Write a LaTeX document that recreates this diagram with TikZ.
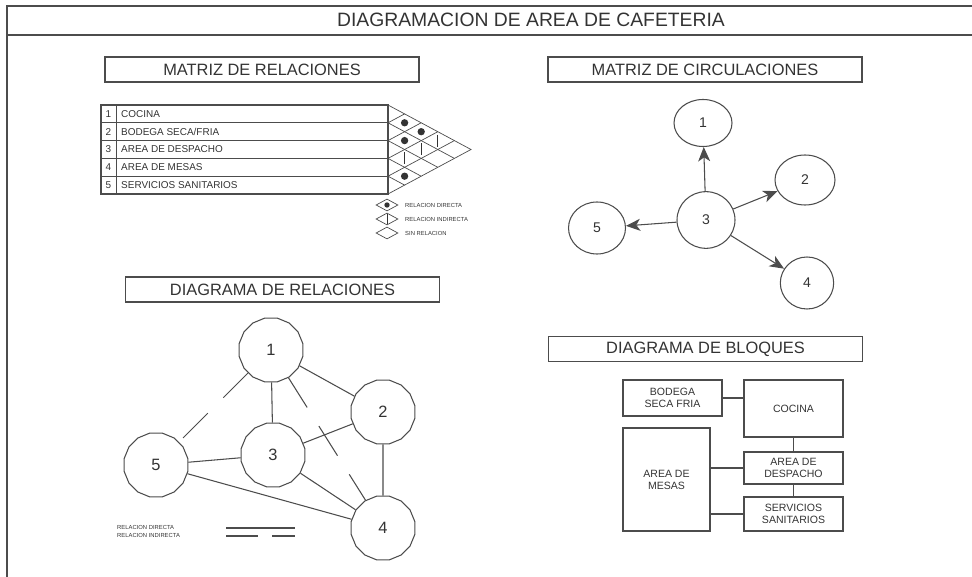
\documentclass[tikz,border=0pt]{standalone}
\usepackage{fontspec}
\setmainfont{Liberation Sans}
\usepackage{xcolor}
\usetikzlibrary{shapes.geometric,arrows.meta,positioning,calc}

\definecolor{trazo}{gray}{0.3}
\definecolor{letra}{gray}{0.2}

\tikzset{
  titulo/.style={rectangle, draw=trazo, line width=1.3pt, minimum width=94.2mm, minimum height=7.4mm, text=letra, font=\fontsize{14}{16}\selectfont},
  zona/.style={regular polygon, regular polygon sides=16, draw=trazo, line width=0.9pt, minimum size=19.5mm, inner sep=0pt, text=letra, font=\fontsize{14}{16}\selectfont},
  espacio/.style={ellipse, draw=trazo, line width=0.9pt, minimum width=17.4mm, minimum height=15.6mm, inner sep=0pt, text=letra, font=\fontsize{12}{14}\selectfont},
  bloque/.style={rectangle, draw=trazo, line width=1.4pt, align=center, inner sep=0pt, minimum width=29.7mm, text=letra, font=\fontsize{9}{10.2}\selectfont},
  directa/.style={draw=trazo, line width=0.9pt},
  indirecta/.style={directa, dash pattern=on 10.5mm off 6.6mm},
  flecha/.style={draw=trazo, line width=0.9pt, -{Stealth[length=4.3mm, width=3.6mm, inset=1.2mm]}},
  fila/.style={anchor=west, inner sep=0pt, text=letra, font=\fontsize{8.5}{10}\selectfont},
  nota/.style={anchor=west, inner sep=0pt, text=letra, font=\fontsize{5}{6}\selectfont},
  rombo/.style={diamond, draw=trazo, line width=0.6pt, aspect=1.8, minimum width=6.6mm, minimum height=3.6mm, inner sep=0pt},
}

\begin{document}
\begin{tikzpicture}[x=0.3mm, y=-0.3mm]
    \useasboundingbox (0,0) rectangle (972,577);

    % marco y titulo
    \draw [trazo, line width=1.3pt] (7,577) -- (7,6) -- (972,6);
    \draw [trazo, line width=1.3pt] (7,35) -- (972,35);
    \node (titulo) [text=letra, font=\fontsize{16.5}{18}\selectfont] at (531,20) {DIAGRAMACION DE AREA DE CAFETERIA};

    \node (tmatriz) [titulo] at (262,69.5) {MATRIZ DE RELACIONES};
    \node (tcirc) [titulo] at (705,69.5) {MATRIZ DE CIRCULACIONES};
    \node (tdiag) [titulo] at (282.5,289.5) {DIAGRAMA DE RELACIONES};
    \node (tbloq) [titulo] at (705.5,349) {DIAGRAMA DE BLOQUES};

    % matriz de relaciones
    \draw [trazo, line width=0.9pt] (101,105) rectangle (388,194);
    \draw [trazo, line width=0.8pt] (116,105) -- (116,194);
    \foreach \k in {1,...,4}
        \draw [trazo, line width=0.9pt] (101,{105+\k*17.8}) -- (388,{105+\k*17.8});
    \draw [trazo, line width=1.3pt] (388,105) -- (388,194);
    \draw [trazo, line width=0.6pt] (388,105) -- (471,149.5) -- (388,194);
    \foreach \k in {1,...,4} {
        \draw [trazo, line width=0.6pt] (388,{105+\k*17.8}) -- ++({(5-\k)*16.6},{(5-\k)*8.9});
        \draw [trazo, line width=0.6pt] (388,{105+\k*17.8}) -- ++({\k*16.6},{-\k*8.9});
    }
    \foreach \i/\j in {1/2,1/3,2/3,4/5}
        \fill [letra] ({388+(\j-\i)*16.6},{105+(\i+\j-1)*8.9}) circle (1.1mm);
    \foreach \i/\j in {1/4,2/4,3/4}
        \draw [letra, line width=0.7pt] ({388+(\j-\i)*16.6},{105+(\i+\j-1)*8.9-6}) -- ++(0,12);

    \node (n1) [text=letra, font=\fontsize{8.5}{10}\selectfont] at (108.5,113.9) {1};
    \node (n2) [text=letra, font=\fontsize{8.5}{10}\selectfont] at (108.5,131.7) {2};
    \node (n3) [text=letra, font=\fontsize{8.5}{10}\selectfont] at (108.5,149.5) {3};
    \node (n4) [text=letra, font=\fontsize{8.5}{10}\selectfont] at (108.5,167.3) {4};
    \node (n5) [text=letra, font=\fontsize{8.5}{10}\selectfont] at (108.5,185.1) {5};
    \node (m1) [fila] at (121,113.9) {COCINA};
    \node (m2) [fila] at (121,131.7) {BODEGA SECA/FRIA};
    \node (m3) [fila] at (121,149.5) {AREA DE DESPACHO};
    \node (m4) [fila] at (121,167.3) {AREA DE MESAS};
    \node (m5) [fila] at (121,185.1) {SERVICIOS SANITARIOS};

    % simbologia
    \node (ld1) [rombo] at (387,205) {};
    \node (ld2) [rombo] at (387,219) {};
    \node (ld3) [rombo] at (387,233) {};
    \fill [letra] (ld1) circle (0.8mm);
    \draw [letra, line width=0.6pt] ($(ld2)+(0,-5)$) -- ($(ld2)+(0,5)$);
    \node (tl1) [nota] at (405,205) {RELACION DIRECTA};
    \node (tl2) [nota] at (405,219) {RELACION INDIRECTA};
    \node (tl3) [nota] at (405,233) {SIN RELACION};

    % diagrama de relaciones
    \node (r1) [zona] at (271,350) {1};
    \node (r2) [zona] at (383,412) {2};
    \node (r3) [zona] at (273,455) {3};
    \node (r4) [zona] at (383,528) {4};
    \node (r5) [zona] at (156,465) {5};

    \draw [directa] (r1) -- (r2);
    \draw [directa] (r1) -- (r3);
    \draw [directa] (r2) -- (r3);
    \draw [directa] (r2) -- (r4);
    \draw [directa] (r3) -- (r5);
    \draw [directa] (r3) -- (r4);
    \draw [directa] (r5) -- (r4);
    \draw [indirecta] (r1) -- (r5);
    \draw [indirecta] (r1) -- (r4);

    \node (lr1) [nota] at (117,527) {RELACION DIRECTA};
    \node (lr2) [nota] at (117,535) {RELACION INDIRECTA};
    \draw [directa] (226,528) -- (295,528);
    \draw [directa] (226,536) -- (258,536);
    \draw [directa] (272,536) -- (295,536);

    % matriz de circulaciones
    \node (c1) [espacio, minimum height=14.1mm] at (703,123) {1};
    \node (c2) [espacio, minimum width=18mm, minimum height=15mm] at (805,180) {2};
    \node (c3) [espacio, minimum height=17mm] at (706,220) {3};
    \node (c4) [espacio, minimum width=16mm] at (807,283) {4};
    \node (c5) [espacio, minimum width=17.1mm] at (597,228) {5};

    \draw [flecha] (c3) -- (c1);
    \draw [flecha] (c3) -- (c2);
    \draw [flecha] (c3) -- (c4);
    \draw [flecha] (c3) -- (c5);

    % diagrama de bloques
    \node (bodega) [bloque, minimum height=10.8mm] at (672.5,398) {BODEGA\\SECA FRIA};
    \node (cocina) [bloque, minimum height=17.1mm] at (793.5,408.5) {COCINA};
    \node (despacho) [bloque, minimum height=9.6mm] at (793.5,468) {AREA DE\\DESPACHO};
    \node (sanitarios) [bloque, minimum height=10.2mm] at (793.5,514) {SERVICIOS\\SANITARIOS};
    \node (mesas) [bloque, minimum width=26.1mm, minimum height=30.9mm] at (666.5,479.5) {AREA DE\\MESAS};

    \draw [directa, line width=1.2pt] (bodega.east) -- (bodega.east -| cocina.west);
    \draw [directa, line width=1.2pt] (cocina) -- (despacho);
    \draw [directa, line width=1.2pt] (despacho) -- (sanitarios);
    \draw [directa, line width=1.2pt] (mesas.east |- despacho.west) -- (despacho.west);
    \draw [directa, line width=1.2pt] (mesas.east |- sanitarios.west) -- (sanitarios.west);
\end{tikzpicture}
\end{document}
